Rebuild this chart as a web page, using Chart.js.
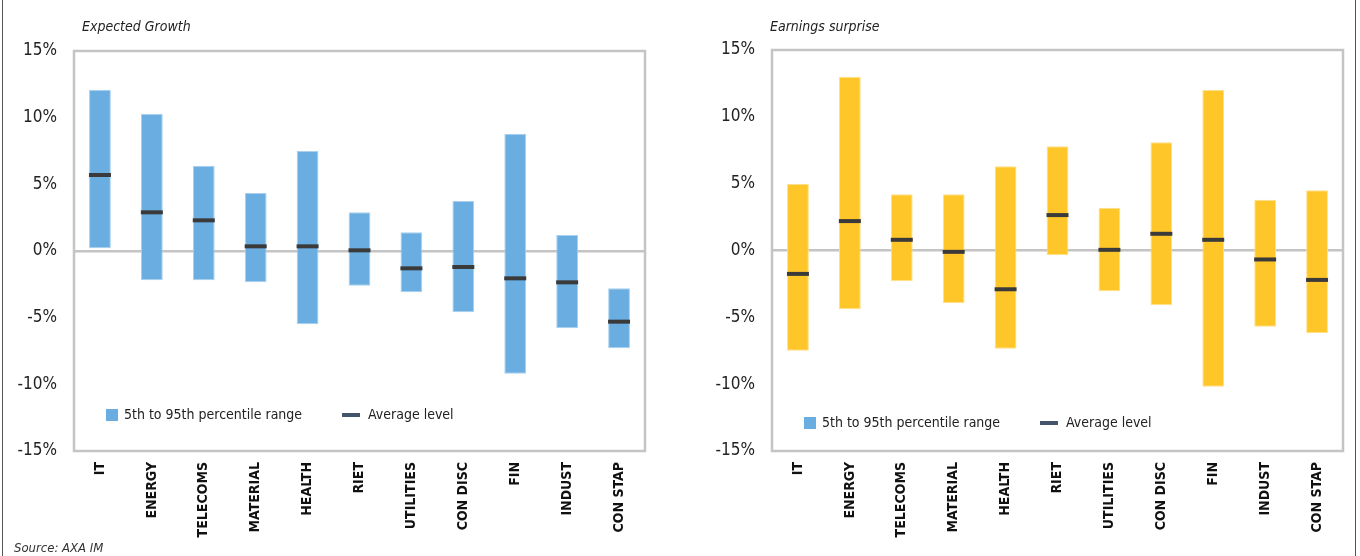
<!DOCTYPE html>
<html>
<head>
<meta charset="utf-8">
<script src="https://cdn.jsdelivr.net/npm/chart.js@4"></script>
<style>
  html, body { margin: 0; padding: 0; background: #fff; }
  #page { position: relative; width: 1360px; height: 556px; overflow: hidden; }
  #frame { position: absolute; left: 2px; top: -10px; width: 1352px; height: 600px;
           border-left: 1px solid #555; border-right: 1px solid #555; }
  .panel { position: absolute; top: 0; width: 680px; height: 556px; }
  .sub { position: absolute; top: 18px; font: italic 14px "DejaVu Sans Condensed", sans-serif; color: #222; }
  #source { position: absolute; left: 14px; top: 540px; font: italic 13px "DejaVu Sans Condensed", sans-serif; color: #333; }
</style>
</head>
<body>
<div id="page">
  <div id="frame"></div>
  <div class="panel" style="left:0"><canvas id="growth"></canvas></div>
  <div class="panel" style="left:680px"><canvas id="surprise"></canvas></div>
  <div class="sub" style="left:82px">Expected Growth</div>
  <div class="sub" style="left:770px">Earnings surprise</div>
  <div id="source">Source: AXA IM</div>
</div>
<script>
/* sector data (percent) */
const categories = ["IT", "ENERGY", "TELECOMS", "MATERIAL", "HEALTH", "RIET", "UTILITIES", "CON DISC", "FIN", "INDUST", "CON STAP"];

const growthLow  = [0.2, -2.2, -2.2, -2.35, -5.5, -2.6, -3.1, -4.6, -9.2, -5.8, -7.3];
const growthHigh = [12.1, 10.3, 6.4, 4.35, 7.5, 2.9, 1.4, 3.75, 8.8, 1.2, -2.8];
const growthAvg  = [5.7, 2.9, 2.3, 0.35, 0.35, 0.05, -1.3, -1.2, -2.05, -2.35, -5.3];

const surpriseLow  = [-7.5, -4.4, -2.3, -3.95, -7.35, -0.35, -3.05, -4.1, -10.2, -5.7, -6.2];
const surpriseHigh = [5.0, 13.0, 4.2, 4.2, 6.3, 7.8, 3.2, 8.1, 12.0, 3.8, 4.5];
const surpriseAvg  = [-1.75, 2.2, 0.8, -0.1, -2.9, 2.65, 0.05, 1.25, 0.8, -0.67, -2.2];

const legendLabels = ["5th to 95th percentile range", "Average level"];

const NARROW = '"DejaVu Sans Condensed", sans-serif';

// box round the plot + legend drawn inside the plot area
const boxLegend = {
  id: "boxLegend",
  afterDraw(chart, args, opts) {
    const { ctx, chartArea: a } = chart;
    ctx.save();
    ctx.strokeStyle = "#c4c4c4";
    ctx.lineWidth = 2.5;
    ctx.strokeRect(a.left, a.top, a.right - a.left, a.bottom - a.top);

    const y = a.bottom - opts.offset;
    ctx.fillStyle = opts.boxColor;
    ctx.fillRect(a.left + 32, y - 6, 12, 12);
    ctx.strokeStyle = "#44546a";
    ctx.lineWidth = 4;
    ctx.beginPath();
    ctx.moveTo(a.left + 268, y);
    ctx.lineTo(a.left + 286, y);
    ctx.stroke();

    ctx.fillStyle = "#222";
    ctx.font = "14px " + NARROW;
    ctx.textBaseline = "middle";
    ctx.fillText(legendLabels[0], a.left + 50, y);
    ctx.fillText(legendLabels[1], a.left + 294, y);
    ctx.restore();
  }
};

function makeChart(canvasId, low, high, avg, cfg) {
  new Chart(document.getElementById(canvasId), {
    type: "bar",
    data: {
      labels: categories,
      datasets: [
        {
          type: "line",
          label: legendLabels[1],
          data: avg,
          showLine: false,
          pointStyle: "line",
          pointRadius: 11,
          pointBorderWidth: 4,
          pointBorderColor: "#3a3a3a",
          order: 0
        },
        {
          label: legendLabels[0],
          data: low.map((v, i) => [v, high[i]]),
          backgroundColor: cfg.barColor,
          borderColor: cfg.barEdge,
          borderWidth: 1,
          borderSkipped: false,
          barPercentage: 0.42,
          categoryPercentage: 1,
          order: 1
        }
      ]
    },
    options: {
      responsive: true,
      maintainAspectRatio: false,
      animation: false,
      events: [],
      layout: { padding: { top: cfg.top, right: cfg.right, bottom: 0, left: 0 } },
      scales: {
        x: {
          grid: { display: false, drawTicks: false },
          border: { display: false },
          ticks: {
            autoSkip: false,
            minRotation: 90,
            maxRotation: 90,
            padding: 11,
            color: "#111",
            font: { family: NARROW, size: 14, weight: "bold" }
          },
          afterFit: s => { s.height = 105; }
        },
        y: {
          min: -15,
          max: 15,
          grid: {
            drawTicks: false,
            lineWidth: 2.5,
            color: c => (c.tick && c.tick.value === 0 ? "#c4c4c4" : "transparent")
          },
          border: { display: false },
          ticks: {
            stepSize: 5,
            padding: 17,
            color: "#222",
            font: { family: NARROW, size: 17 },
            callback: v => v + "%"
          },
          afterFit: s => { s.width = cfg.axisWidth; }
        }
      },
      plugins: {
        legend: { display: false },
        tooltip: { enabled: false },
        boxLegend: { offset: cfg.legendOffset, boxColor: "#6aade0" }
      }
    },
    plugins: [boxLegend]
  });
}

makeChart("growth", growthLow, growthHigh, growthAvg, {
  barColor: "#6aade0", barEdge: "#a9d0ee", top: 51, right: 35, axisWidth: 74, legendOffset: 36
});
makeChart("surprise", surpriseLow, surpriseHigh, surpriseAvg, {
  barColor: "#ffc629", barEdge: "#ffe08a", top: 50, right: 17, axisWidth: 92, legendOffset: 28
});
</script>
</body>
</html>
